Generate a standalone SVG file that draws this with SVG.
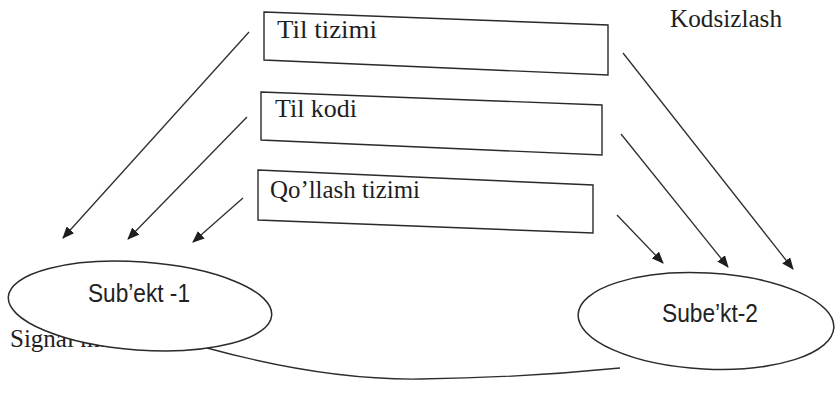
<svg xmlns="http://www.w3.org/2000/svg" width="836" height="393" viewBox="0 0 836 393">
<style>
.box{fill:#fff;stroke:#2a2a2a;stroke-width:1.4}
.ell{fill:#fff;stroke:#2a2a2a;stroke-width:1.5}
.t{font-family:"Liberation Serif","Times New Roman",serif;font-size:25px;fill:#1e1e1e}
.s{font-family:"Liberation Sans",Arial,sans-serif;font-size:25px;fill:#222}
.ln{fill:none;stroke:#2e2e2e;stroke-width:1.3}
</style>
<defs>
<marker id="ah" markerWidth="12" markerHeight="10" refX="11" refY="5" orient="auto" markerUnits="userSpaceOnUse">
<path d="M0,0 L12,5 L0,10 z" fill="#1e1e1e"/>
</marker>
</defs>
<rect width="836" height="393" fill="#fff"/>
<text class="t" x="670" y="27" textLength="112" lengthAdjust="spacingAndGlyphs">Kodsizlash</text>
<text class="t" x="10" y="347">Signal manbai</text>
<g id="box1">
<polygon class="box" points="264,12 608,25 608,75 264,60"/>
<text class="t" x="277" y="38" textLength="100" lengthAdjust="spacingAndGlyphs">Til tizimi</text>
</g>
<g id="box2">
<polygon class="box" points="261,92 602,105 602,155 261,140"/>
<text class="t" x="275" y="117" textLength="82" lengthAdjust="spacingAndGlyphs">Til kodi</text>
</g>
<g id="box3">
<polygon class="box" points="258,170 593,185 593,233 258,220"/>
<text class="t" x="270" y="198" textLength="150" lengthAdjust="spacingAndGlyphs">Qo’llash tizimi</text>
</g>
<g id="connectors">
<line class="ln" x1="249" y1="32" x2="63" y2="238" marker-end="url(#ah)"/>
<line class="ln" x1="247" y1="117" x2="128" y2="239" marker-end="url(#ah)"/>
<line class="ln" x1="243" y1="198" x2="193" y2="242" marker-end="url(#ah)"/>
<line class="ln" x1="623" y1="53" x2="793" y2="269" marker-end="url(#ah)"/>
<line class="ln" x1="621" y1="134" x2="728" y2="267" marker-end="url(#ah)"/>
<line class="ln" x1="617" y1="215" x2="663" y2="263" marker-end="url(#ah)"/>
<path class="ln" d="M207,348 C280,368 350,380 420,379 C500,378 570,373 620,368"/>
</g>
<g id="subekt1">
<ellipse class="ell" cx="140" cy="306" rx="132" ry="44" transform="rotate(4 140 306)"/>
<text class="s" x="88" y="302" textLength="102" lengthAdjust="spacingAndGlyphs">Sub’ekt -1</text>
</g>
<g id="subekt2">
<ellipse class="ell" cx="706" cy="321" rx="128" ry="48" transform="rotate(3 706 321)"/>
<text class="s" x="662" y="322" textLength="96" lengthAdjust="spacingAndGlyphs">Sube’kt-2</text>
</g>
</svg>
